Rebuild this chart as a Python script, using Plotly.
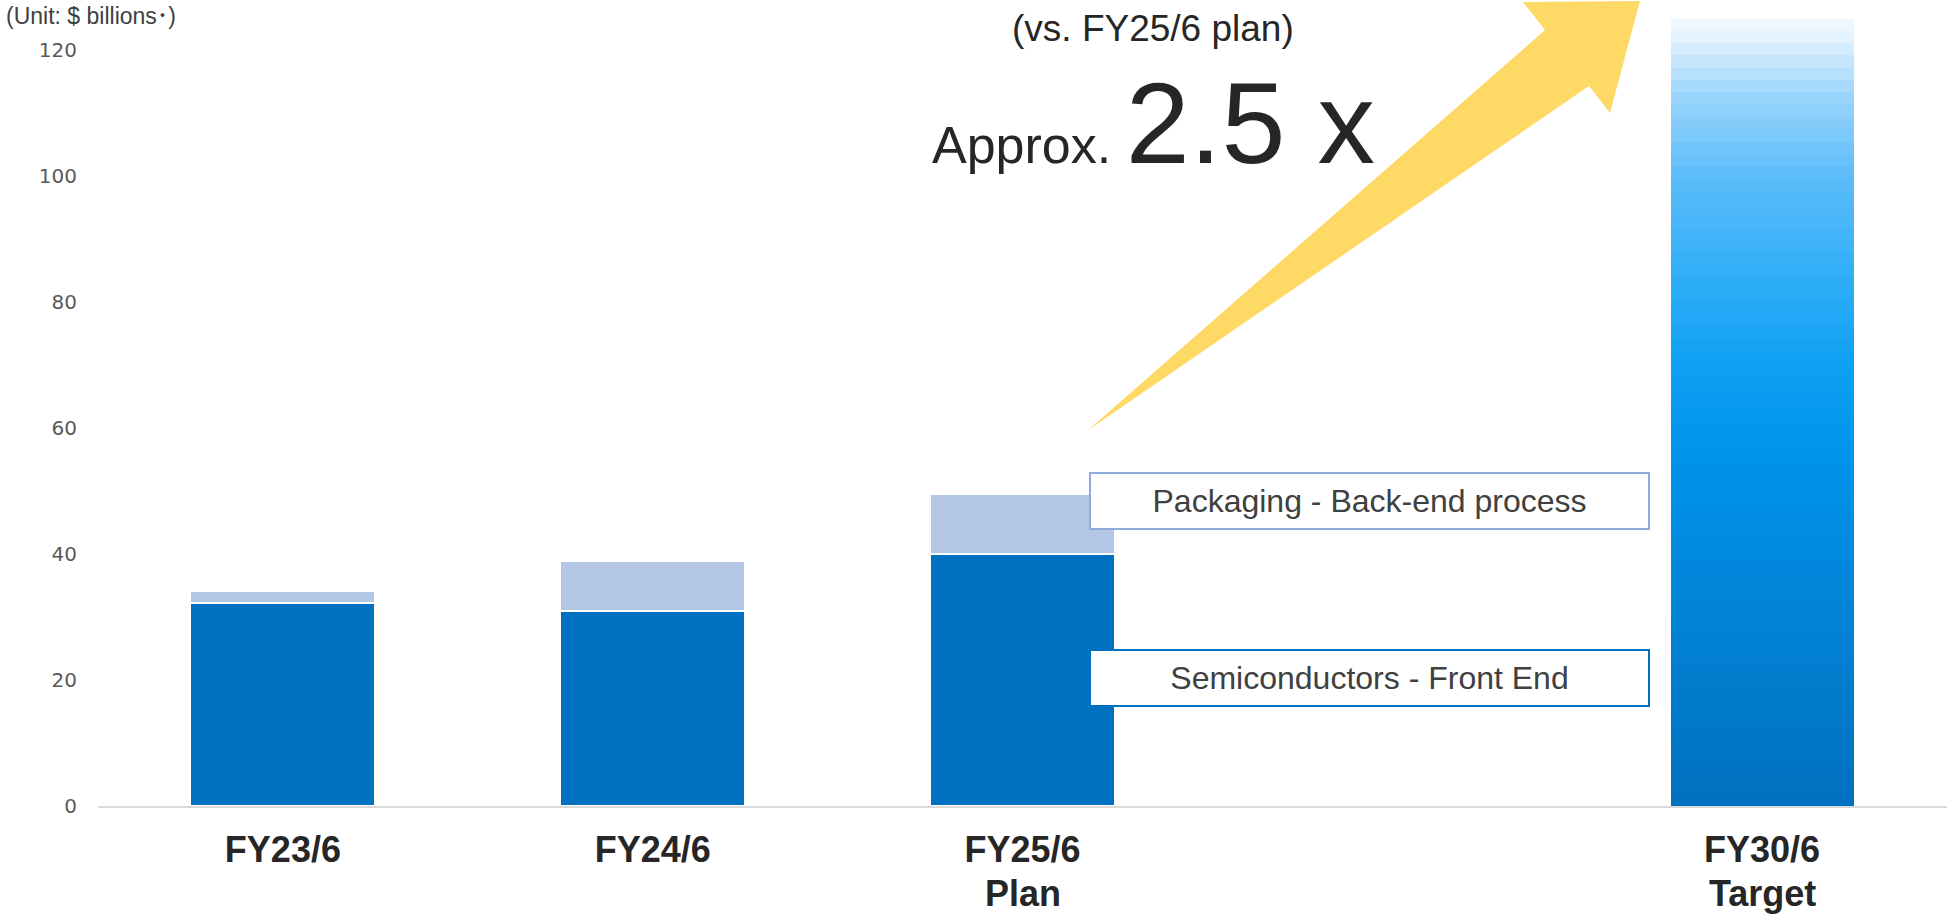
import numpy as np
import plotly.graph_objects as go

# ---- data -------------------------------------------------------------
categories = ["FY23/6", "FY24/6", "FY25/6", "FY30/6"]
sublabels = ["", "", "Plan", "Target"]
positions = [0, 1, 2, 4]
front_end = [32.2, 31.0, 40.0]          # Semiconductors - Front End
back_end = [2.0, 7.9, 9.5]              # Packaging - Back-end process
target_total = 125.0                    # FY30/6 target
y_ticks = [0, 20, 40, 60, 80, 100, 120]

# ---- canvas geometry ---------------------------------------------------
W, H = 1947, 914
M_L, M_R, M_T, M_B = 98, 0, 0, 108
PLOT_W = W - M_L - M_R
PLOT_H = H - M_T - M_B
Y_MAX = 127.94
X_RANGE = [-0.5, 4.5]


def paper_x(px):
    return (px - M_L) / PLOT_W


def paper_y(py):
    return (M_T + PLOT_H - py) / PLOT_H


def data_x(px):
    return X_RANGE[0] + (px - M_L) / PLOT_W * (X_RANGE[1] - X_RANGE[0])


def data_y(py):
    return (M_T + PLOT_H - py) / PLOT_H * Y_MAX


DARK_BLUE = "#0070C0"
LIGHT_BLUE = "#B4C7E7"
GOLD = "#FFD966"
TEXT = "#262626"

fig = go.Figure()

fig.add_bar(
    x=positions[:3], y=front_end, width=0.5,
    marker=dict(color=DARK_BLUE, line=dict(color="white", width=2)),
    name="Semiconductors - Front End", hoverinfo="skip",
)
fig.add_bar(
    x=positions[:3], y=back_end, width=0.5,
    marker=dict(color=LIGHT_BLUE, line=dict(color="white", width=2)),
    name="Packaging - Back-end process", hoverinfo="skip",
)

# target bar: vertical gradient built from thin stacked bands
n_bands = 64
stops = [
    (0.00, "#0070C0"),
    (0.25, "#0284D6"),
    (0.45, "#0094EC"),
    (0.56, "#0EA0F2"),
    (0.68, "#33AFF8"),
    (0.80, "#5CBDFA"),
    (0.90, "#9AD4FC"),
    (0.97, "#DDF0FE"),
    (1.00, "#F2F9FF"),
]


def hex_rgb(h):
    h = h.lstrip("#")
    return [int(h[i:i + 2], 16) for i in (0, 2, 4)]


stop_pos = np.array([s[0] for s in stops])
stop_rgb = np.array([hex_rgb(s[1]) for s in stops], dtype=float)
mid = (np.arange(n_bands) + 0.5) / n_bands
band_colors = []
for f in mid:
    rgb = [np.interp(f, stop_pos, stop_rgb[:, k]) for k in range(3)]
    band_colors.append("rgb(%d,%d,%d)" % tuple(int(round(v)) for v in rgb))

fig.add_bar(
    x=[positions[3]] * n_bands,
    y=[target_total / n_bands] * n_bands,
    width=0.495,
    marker=dict(color=band_colors, line=dict(width=0)),
    name="Target", hoverinfo="skip",
)

# growth arrow
arrow_px = [(1087, 431), (1545, 30), (1523, 2), (1640, 1), (1610, 113), (1589, 86)]
path = "M " + " L ".join("%.4f,%.4f" % (data_x(a), data_y(b)) for a, b in arrow_px) + " Z"
fig.add_shape(type="path", path=path, xref="x", yref="y",
              fillcolor=GOLD, line=dict(width=0), layer="above")

annotations = [
    dict(text="(Unit: $ billions･)", x=paper_x(4), y=paper_y(16),
         xanchor="left", yanchor="middle",
         font=dict(family="Liberation Sans, Noto Sans CJK JP", size=23, color="#404040")),
    dict(text="(vs. FY25/6 plan)", x=paper_x(1153), y=paper_y(29),
         xanchor="center", yanchor="middle",
         font=dict(family="Liberation Sans", size=37, color=TEXT)),
    dict(text="Approx. <span style='font-size:115px'>2.5 x</span>",
         x=paper_x(930), y=paper_y(123),
         xanchor="left", yanchor="middle",
         font=dict(family="Liberation Sans", size=52, color=TEXT)),
    dict(text="Packaging - Back-end process", x=paper_x(1369.5), y=paper_y(501.5),
         xanchor="center", yanchor="middle", width=557, height=54,
         borderpad=0, borderwidth=2, bordercolor="#8FAADC", bgcolor="white",
         font=dict(family="Liberation Sans", size=32, color="#404040")),
    dict(text="Semiconductors - Front End", x=paper_x(1369.5), y=paper_y(678),
         xanchor="center", yanchor="middle", width=557, height=54,
         borderpad=0, borderwidth=2, bordercolor=DARK_BLUE, bgcolor="white",
         font=dict(family="Liberation Sans", size=32, color="#404040")),
]
# second line of the category labels
for pos, sub in zip(positions, sublabels):
    if sub:
        annotations.append(dict(
            text=sub, x=pos, xref="x", y=paper_y(893), xanchor="center", yanchor="middle",
            font=dict(family="Liberation Sans", size=36, color=TEXT, weight="bold"),
        ))
for a in annotations:
    a.setdefault("xref", "paper")
    a.update(yref="paper", showarrow=False)

fig.update_layout(
    width=W, height=H,
    margin=dict(l=M_L, r=M_R, t=M_T, b=M_B, pad=0),
    paper_bgcolor="white", plot_bgcolor="white",
    barmode="stack", showlegend=False,
    annotations=annotations,
    xaxis=dict(
        range=X_RANGE, tickvals=positions, ticktext=categories,
        showgrid=False, zeroline=False, automargin=False,
        showline=True, linecolor="#D9D9D9", linewidth=2,
        ticks="", ticklabelstandoff=11,
        tickfont=dict(family="Liberation Sans", size=36, color=TEXT, weight="bold"),
    ),
    yaxis=dict(
        range=[0, Y_MAX], tickvals=y_ticks, automargin=False,
        showgrid=False, zeroline=False, showline=False,
        ticks="", ticklabelstandoff=20,
        tickfont=dict(family="DejaVu Sans", size=20, color="#595959"),
    ),
)

fig.write_html("out.html")
